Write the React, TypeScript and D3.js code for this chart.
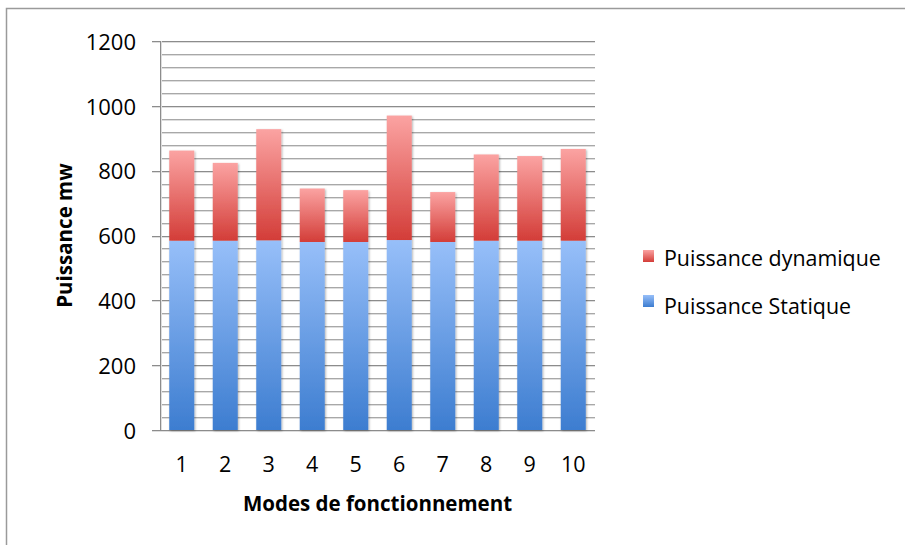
import React from "react";
import * as d3 from "d3";

const categories = ["1", "2", "3", "4", "5", "6", "7", "8", "9", "10"];
const staticPower = [584, 584, 585, 580, 580, 586, 580, 584, 584, 584];
const dynamicPower = [278, 240, 343, 165, 160, 384, 154, 266, 261, 283];
const yTicks = [0, 200, 400, 600, 800, 1000, 1200];
const seriesNames = ["Puissance dynamique", "Puissance Statique"];

const W = 905;
const H = 545;
const M = { left: 160, right: 595, top: 41, bottom: 430 };
const FONT = "'Open Sans', 'Liberation Sans', sans-serif";

export default function App() {
  const x = d3.scaleBand<string>().domain(categories).range([M.left, M.right]).paddingInner(0.425).paddingOuter(0.2125);
  const y = d3.scaleLinear().domain([0, 1200]).range([M.bottom, M.top]);
  const minor = d3.range(0, 1201, 40);
  const rows = categories.map((c, i) => ({ c, s: staticPower[i], d: dynamicPower[i] }));

  return (
    <div style={{ position: "absolute", left: 0, top: 0 }}>
      <svg width={W} height={H} style={{ display: "block" }}>
        <defs>
          <linearGradient id="gRed" x1="0" y1="0" x2="0" y2="1">
            <stop offset="0" stopColor="#fba3a2" />
            <stop offset="1" stopColor="#d33d38" />
          </linearGradient>
          <linearGradient id="gBlue" x1="0" y1="0" x2="0" y2="1">
            <stop offset="0" stopColor="#97bff9" />
            <stop offset="1" stopColor="#3d7dd0" />
          </linearGradient>
          <filter id="shadow" x="-20%" y="-5%" width="150%" height="115%">
            <feDropShadow dx="1" dy="1" stdDeviation="1" floodColor="#000" floodOpacity="0.3" />
          </filter>
        </defs>
        <rect x={0} y={0} width={W} height={H} fill="#fff" />
        <path d={`M6.5,${H} V8.5 H${W}`} fill="none" stroke="#9a9a9a" strokeWidth={1.5} />

        {minor.map((v) => {
          const yy = Math.round(y(v)) + 0.5;
          const major = v % 200 === 0;
          return (
            <g key={v}>
              <line x1={major ? 152 : M.left} x2={M.right} y1={yy + 1} y2={yy + 1} stroke="#dedede" />
              <line x1={major ? 152 : M.left} x2={M.right} y1={yy} y2={yy} stroke={major ? "#8c8c8c" : "#a8a8a8"} />
            </g>
          );
        })}
        <line x1={M.left + 0.5} x2={M.left + 0.5} y1={M.top} y2={M.bottom + 1} stroke="#8c8c8c" />
        <line x1={M.left + 1.5} x2={M.left + 1.5} y1={M.top} y2={M.bottom} stroke="#dedede" />

        {rows.map((r) => (
          <g key={r.c} filter="url(#shadow)">
            <rect x={x(r.c)} width={x.bandwidth()} y={y(r.s)} height={y(0) - y(r.s)} fill="url(#gBlue)" />
            <rect x={x(r.c)} width={x.bandwidth()} y={y(r.s + r.d)} height={y(r.s) - y(r.s + r.d)} fill="url(#gRed)" />
          </g>
        ))}

        {yTicks.map((t) => (
          <text key={t} x={136} y={y(t) + 1} dy="0.35em" textAnchor="end" fontFamily={FONT} fontSize={22} fill="#000">
            {t}
          </text>
        ))}
        {categories.map((c) => (
          <text key={c} x={x(c)! + x.bandwidth() / 2} y={472} textAnchor="middle" fontFamily={FONT} fontSize={21.5} fill="#000">
            {c}
          </text>
        ))}
        <text x={(M.left + M.right) / 2} y={511} textAnchor="middle" fontFamily={FONT} fontSize={20.5} fontWeight="bold" fill="#000">
          Modes de fonctionnement
        </text>
        <text transform={`translate(72,${(M.top + M.bottom) / 2}) rotate(-90)`} textAnchor="middle" fontFamily={FONT} fontSize={20.5} fontWeight="bold" fill="#000">
          Puissance mw
        </text>

        <rect x={643} y={250} width={11} height={12} fill="url(#gRed)" />
        <text x={664} y={266} fontFamily={FONT} fontSize={21.4} fill="#000">{seriesNames[0]}</text>
        <rect x={643} y={295} width={11} height={12} fill="url(#gBlue)" />
        <text x={664} y={314} fontFamily={FONT} fontSize={21.4} fill="#000">{seriesNames[1]}</text>
      </svg>
    </div>
  );
}
